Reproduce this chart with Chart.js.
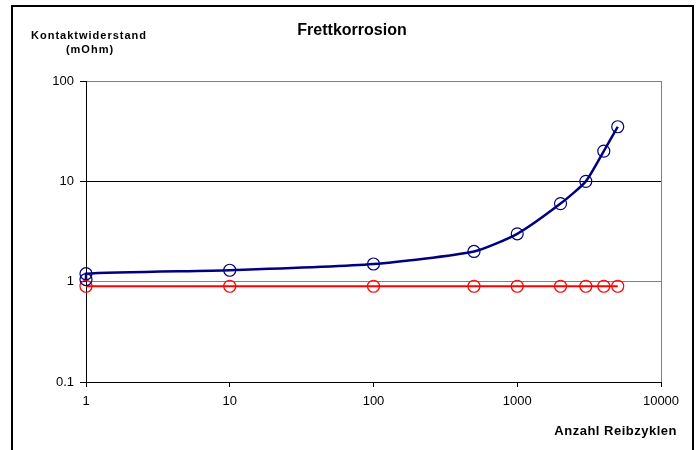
<!DOCTYPE html>
<html>
<head>
<meta charset="utf-8">
<script src="https://cdn.jsdelivr.net/npm/chart.js@4.4.0/dist/chart.umd.min.js"></script>
<style>
    body { margin: 0; background: #fff; }
    #wrap { position: relative; width: 696px; height: 450px; }
    #frame {
        position: absolute; left: 11px; top: 5px; width: 679px; height: 460px;
        border-left: 2px solid #000; border-top: 2px solid #000; border-right: 2px solid #000;
        pointer-events: none;
    }
</style>
</head>
<body>
<div id="wrap">
    <canvas id="chart" width="696" height="450"></canvas>
    <div id="frame"></div>
</div>
<script>
// Data
const cyclesBlue = [1, 1, 10, 100, 500, 1000, 2000, 3000, 4000, 5000];
const resistanceBlue = [1.05, 1.2, 1.3, 1.5, 2.0, 3.0, 6.0, 10, 20, 35];
const cyclesRed = [1, 10, 100, 500, 1000, 2000, 3000, 4000, 5000];
const resistanceRed = [0.9, 0.9, 0.9, 0.9, 0.9, 0.9, 0.9, 0.9, 0.9];
const xTicks = [1, 10, 100, 1000, 10000];
const yTicks = [0.1, 1, 10, 100];

const FONT = '"Liberation Sans", Arial, sans-serif';

function toPoints(xs, ys) {
    return xs.map((x, i) => ({ x: x, y: ys[i] }));
}

// Titles and right border of the plot area
const decorPlugin = {
    id: 'decor',
    afterDraw(chart) {
        const ctx = chart.ctx;
        const area = chart.chartArea;
        ctx.save();
        ctx.strokeStyle = '#808080';
        ctx.lineWidth = 1;
        ctx.beginPath();
        ctx.moveTo(area.right + 0.5, area.top);
        ctx.lineTo(area.right + 0.5, area.bottom);
        ctx.stroke();

        ctx.fillStyle = '#000';
        ctx.textBaseline = 'middle';
        ctx.textAlign = 'center';
        ctx.font = 'bold 16px ' + FONT;
        ctx.fillText('Frettkorrosion', 352, 31);

        ctx.font = 'bold 11px ' + FONT;
        ctx.letterSpacing = '1px';
        ctx.fillText('Kontaktwiderstand', 89, 36);
        ctx.fillText('(mOhm)', 90, 50);

        ctx.font = 'bold 13px ' + FONT;
        ctx.letterSpacing = '0.5px';
        ctx.textAlign = 'right';
        ctx.fillText('Anzahl Reibzyklen', 677, 431);
        ctx.restore();
    }
};

new Chart(document.getElementById('chart').getContext('2d'), {
    type: 'scatter',
    data: {
        datasets: [
            {
                label: 'blau',
                data: toPoints(cyclesBlue, resistanceBlue),
                showLine: true,
                clip: false,
                borderColor: '#000080',
                borderWidth: 2.5,
                tension: 0.2,
                pointRadius: 6,
                pointBorderWidth: 1.2,
                pointBorderColor: '#000080',
                pointBackgroundColor: 'rgba(0,0,0,0)'
            },
            {
                label: 'rot',
                data: toPoints(cyclesRed, resistanceRed),
                showLine: true,
                clip: false,
                borderColor: '#ff0000',
                borderWidth: 2,
                tension: 0,
                pointRadius: 6,
                pointBorderWidth: 1.2,
                pointBorderColor: '#ff0000',
                pointBackgroundColor: 'rgba(0,0,0,0)'
            }
        ]
    },
    options: {
        responsive: false,
        animation: false,
        layout: { padding: { top: 81, right: 35, bottom: 38, left: 0 } },
        plugins: {
            legend: { display: false },
            tooltip: { enabled: false }
        },
        scales: {
            x: {
                type: 'logarithmic',
                min: 1,
                max: 10000,
                afterFit(scale) { scale.height = 30; },
                afterBuildTicks(scale) { scale.ticks = xTicks.map(v => ({ value: v })); },
                ticks: {
                    autoSkip: false,
                    maxRotation: 0,
                    padding: 7,
                    color: '#000',
                    font: { family: FONT, size: 13 },
                    callback: v => String(v)
                },
                grid: {
                    drawOnChartArea: false,
                    drawTicks: true,
                    tickLength: 5,
                    tickColor: '#000'
                },
                border: { color: '#000', width: 1 }
            },
            y: {
                type: 'logarithmic',
                min: 0.1,
                max: 100,
                afterFit(scale) { scale.width = 86; },
                afterBuildTicks(scale) { scale.ticks = yTicks.map(v => ({ value: v })); },
                ticks: {
                    autoSkip: false,
                    padding: 6,
                    color: '#000',
                    font: { family: FONT, size: 13 },
                    callback: v => String(v)
                },
                grid: {
                    tickLength: 6,
                    tickColor: '#000',
                    color: ctx => (ctx.tick && ctx.tick.value === 10) ? '#000' : '#808080'
                },
                border: { color: '#000', width: 1 }
            }
        }
    },
    plugins: [decorPlugin]
});
</script>
</body>
</html>
